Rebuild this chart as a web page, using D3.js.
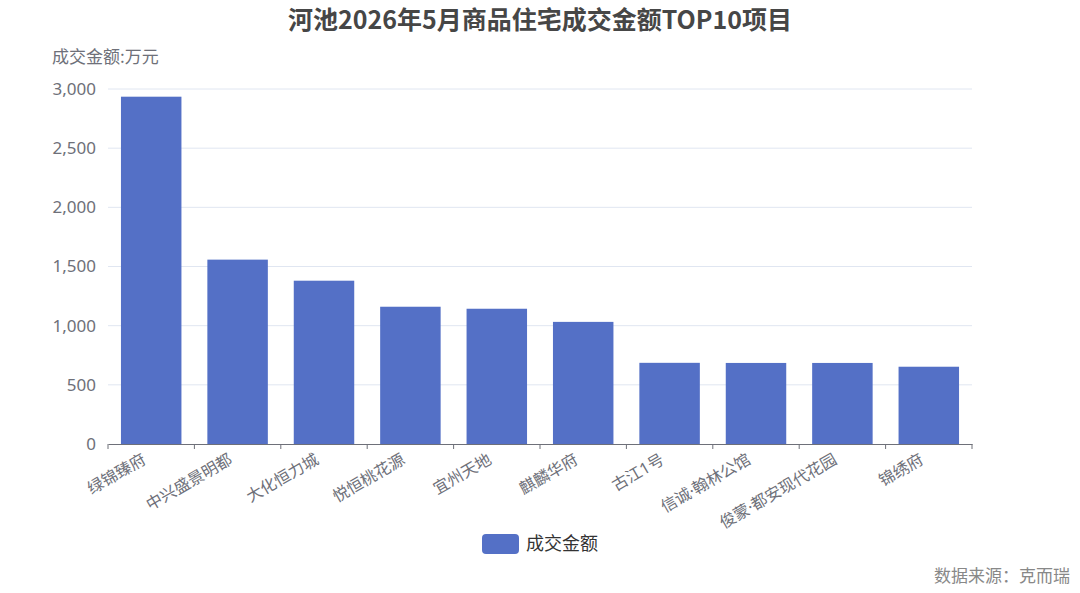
<!DOCTYPE html>
<html><head><meta charset="utf-8">
<script src="https://cdn.jsdelivr.net/npm/d3@7"></script>
<style>body{margin:0;background:#fff;font-family:"Noto Sans CJK SC","Noto Sans",sans-serif}</style>
</head><body><svg id="c" width="1080" height="593"></svg>
<script>
const categories=["绿锦臻府","中兴盛景明都","大化恒力城","悦恒桃花源","宜州天地","麒麟华府","古江1号","信诚·翰林公馆","俊蒙·都安现代花园","锦绣府"];
const values=[2935,1558,1380,1160,1143,1032,686,685,685,653];
const yTicks=[0,500,1000,1500,2000,2500,3000];
const svg=d3.select("#c");
const m={l:108,r:972,t:89,b:444};
const x=d3.scaleBand().domain(categories).range([m.l,m.r]).paddingInner(0.3).paddingOuter(0.15);
const y=d3.scaleLinear().domain([0,3000]).range([m.b,m.t]);
const font='"Noto Sans CJK SC","Noto Sans",sans-serif';
const lfont='"Noto Sans","Noto Sans CJK SC",sans-serif';
svg.append("g").selectAll("line").data(yTicks.slice(1)).join("line")
 .attr("x1",m.l).attr("x2",m.r).attr("y1",d=>y(d)).attr("y2",d=>y(d)).attr("stroke","#e0e6f1");
svg.append("g").selectAll("text").data(yTicks).join("text")
 .attr("x",m.l-12).attr("y",d=>y(d)).attr("dy","0.35em").attr("text-anchor","end")
 .attr("fill","#6e7079").attr("font-size",17).attr("font-family",lfont).text(d3.format(","));
svg.append("g").selectAll("rect").data(values).join("rect")
 .attr("x",(d,i)=>x(categories[i])).attr("width",x.bandwidth())
 .attr("y",d=>y(d)).attr("height",d=>y(0)-y(d)).attr("fill","#5470c6");
const xa=svg.append("g").attr("transform",`translate(0,${m.b})`).call(d3.axisBottom(x).tickSize(5).tickSizeOuter(0));
xa.select(".domain").attr("stroke","#6e7079");
xa.selectAll(".tick line").remove();
const x0=d3.scaleLinear().domain([0,10]).range([m.l,m.r]);
svg.append("g").selectAll("line").data(d3.range(11)).join("line")
 .attr("x1",d=>x0(d)).attr("x2",d=>x0(d)).attr("y1",m.b).attr("y2",m.b+5).attr("stroke","#6e7079");
xa.selectAll(".tick text").attr("font-size",16).attr("font-family",lfont).attr("fill","#6e7079")
 .attr("text-anchor","end").attr("y",0).attr("dy","0.35em").attr("transform","translate(-7,14) rotate(-30)");
svg.append("text").attr("x",540).attr("y",29).attr("text-anchor","middle").attr("font-size",25)
 .attr("font-weight","bold").attr("font-family",font).attr("fill","#464646").text("河池2026年5月商品住宅成交金额TOP10项目");
svg.append("text").attr("x",52).attr("y",63).attr("font-size",17).attr("font-family",font).attr("fill","#6e7079").text("成交金额:万元");
svg.append("rect").attr("x",482).attr("y",534).attr("width",37).attr("height",20).attr("rx",4).attr("fill","#5470c6");
svg.append("text").attr("x",526).attr("y",544).attr("dy","0.35em").attr("font-size",18).attr("font-family",font).attr("fill","#333").text("成交金额");
svg.append("text").attr("x",1070).attr("y",582).attr("text-anchor","end").attr("font-size",17).attr("font-family",font).attr("fill","#888").text("数据来源：克而瑞");
</script></body></html>
